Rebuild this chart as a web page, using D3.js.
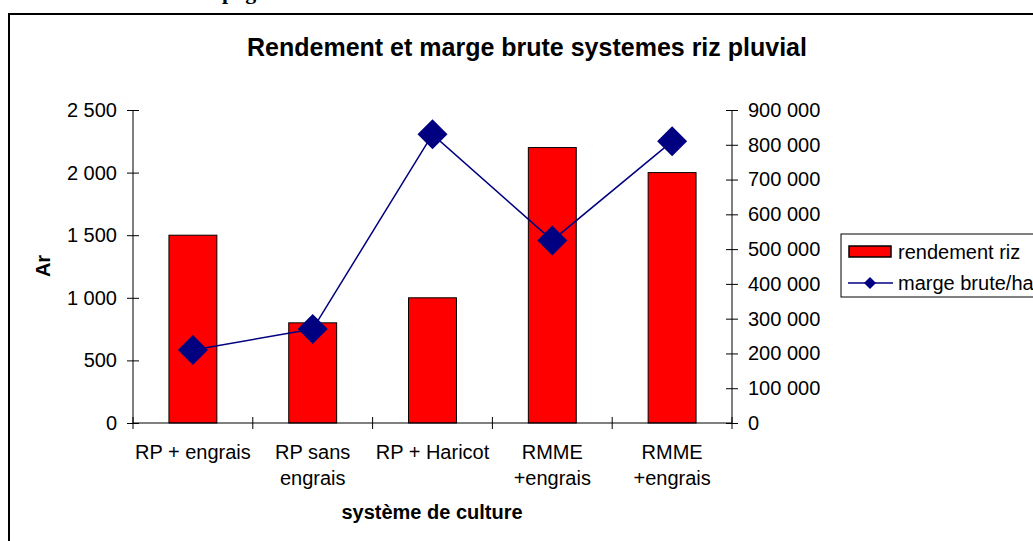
<!DOCTYPE html>
<html>
<head>
<meta charset="utf-8">
<script src="https://cdn.jsdelivr.net/npm/d3@7"></script>
<style>
  body { margin: 0; background: #fff; }
  svg { display: block; font-family: "Liberation Sans", Arial, sans-serif; }
</style>
</head>
<body>
<div id="chart"></div>
<script>
// chart data
var categories = [["RP + engrais"], ["RP sans", "engrais"], ["RP + Haricot"], ["RMME", "+engrais"], ["RMME", "+engrais"]];
var rendement = [1500, 800, 1000, 2200, 2000];
var marge = [210000, 270000, 830000, 525000, 810000];
var leftTicks = [0, 500, 1000, 1500, 2000, 2500];
var rightTicks = [0, 100000, 200000, 300000, 400000, 500000, 600000, 700000, 800000, 900000];
var legendLabels = ["rendement riz", "marge brute/ha"];

var W = 1033, H = 541;
var plotL = 133, plotR = 732, plotT = 110, plotB = 423;

var fr = d3.formatLocale({decimal: ",", thousands: " ", grouping: [3], currency: ["", ""]});
var fmt = fr.format(",d");

var svg = d3.select("#chart").append("svg").attr("width", W).attr("height", H);

// cut heading from the page above
svg.append("text").attr("x", 222).attr("y", -1)
  .style("font-family", "'Liberation Serif', serif").style("font-weight", "bold").style("font-size", "22px")
  .text("page");

// outer frame (runs off the picture)
svg.append("rect").attr("x", 9).attr("y", 14).attr("width", 1100).attr("height", 600)
  .attr("fill", "none").attr("stroke", "#000").attr("stroke-width", 2);

var idx = d3.range(categories.length);
var x = d3.scaleBand().domain(idx).range([plotL, plotR]);
var yL = d3.scaleLinear().domain([0, 2500]).range([plotB, plotT]);
var yR = d3.scaleLinear().domain([0, 900000]).range([plotB, plotT]);

// title
svg.append("text").attr("x", 527).attr("y", 56).attr("text-anchor", "middle")
  .style("font-weight", "bold").style("font-size", "25px")
  .text("Rendement et marge brute systemes riz pluvial");

// bars
var bw = x.bandwidth() / 2.5;
svg.selectAll("rect.bar").data(rendement).enter().append("rect")
  .attr("class", "bar")
  .attr("x", function(d, i) { return x(i) + x.bandwidth() / 2 - bw / 2; })
  .attr("y", function(d) { return yL(d); })
  .attr("width", bw)
  .attr("height", function(d) { return plotB - yL(d); })
  .attr("fill", "#ff0000").attr("stroke", "#000").attr("stroke-width", 1);

// left axis
var axL = svg.append("g").attr("transform", "translate(" + plotL + ",0)")
  .call(d3.axisLeft(yL).tickValues(leftTicks).tickFormat(fmt).tickSize(6).tickPadding(10));
axL.selectAll(".tick line").attr("x2", 6).attr("x1", -6);
axL.select(".domain").attr("d", "M0," + plotT + "V" + plotB);

// right axis
var axR = svg.append("g").attr("transform", "translate(" + plotR + ",0)")
  .call(d3.axisRight(yR).tickValues(rightTicks).tickFormat(fmt).tickSize(6).tickPadding(10));
axR.selectAll(".tick line").attr("x1", -6).attr("x2", 6);
axR.select(".domain").attr("d", "M0," + plotT + "V" + plotB);

svg.selectAll(".tick text").style("font-size", "20px").style("font-family", "'Liberation Sans', Arial, sans-serif").attr("fill", "#000");
svg.selectAll(".domain, .tick line").attr("stroke", "#000");

// x axis with ticks between categories
svg.append("line").attr("x1", plotL).attr("x2", plotR).attr("y1", plotB).attr("y2", plotB).attr("stroke", "#000");
svg.selectAll("line.xt").data(d3.range(categories.length + 1)).enter().append("line")
  .attr("class", "xt")
  .attr("x1", function(d) { return plotL + d * x.step(); })
  .attr("x2", function(d) { return plotL + d * x.step(); })
  .attr("y1", plotB - 6).attr("y2", plotB + 6).attr("stroke", "#000");

svg.selectAll("text.cat").data(categories).enter().append("text")
  .attr("class", "cat")
  .attr("text-anchor", "middle")
  .attr("x", function(d, i) { return x(i) + x.bandwidth() / 2; })
  .attr("y", 459)
  .style("font-size", "20px")
  .each(function(d) {
    var t = d3.select(this);
    d.forEach(function(s, k) {
      t.append("tspan").attr("x", t.attr("x")).attr("dy", k ? 26 : 0).text(s);
    });
  });

// axis titles
svg.append("text").attr("transform", "translate(50,266) rotate(-90)").attr("text-anchor", "middle")
  .style("font-weight", "bold").style("font-size", "20px").text("Ar");
svg.append("text").attr("x", 432).attr("y", 519).attr("text-anchor", "middle")
  .style("font-weight", "bold").style("font-size", "20px").text("système de culture");

// line series
var line = d3.line().x(function(d, i) { return x(i) + x.bandwidth() / 2; }).y(function(d) { return yR(d); });
svg.append("path").datum(marge).attr("d", line).attr("fill", "none").attr("stroke", "#000080").attr("stroke-width", 1.5);

var diamond = d3.symbol().type(d3.symbolSquare).size(450);
svg.selectAll("path.pt").data(marge).enter().append("path")
  .attr("class", "pt")
  .attr("d", diamond)
  .attr("transform", function(d, i) { return "translate(" + (x(i) + x.bandwidth() / 2) + "," + yR(d) + ") rotate(45)"; })
  .attr("fill", "#000080");

// legend
var lg = svg.append("g");
lg.append("rect").attr("x", 841).attr("y", 234).attr("width", 250).attr("height", 63)
  .attr("fill", "#fff").attr("stroke", "#000").attr("stroke-width", 1);
lg.append("rect").attr("x", 849).attr("y", 246).attr("width", 42).attr("height", 11)
  .attr("fill", "#ff0000").attr("stroke", "#000").attr("stroke-width", 1.5);
lg.append("line").attr("x1", 848).attr("x2", 893).attr("y1", 283).attr("y2", 283)
  .attr("stroke", "#000080").attr("stroke-width", 1.5);
lg.append("path").attr("d", d3.symbol().type(d3.symbolSquare).size(72))
  .attr("transform", "translate(870,283) rotate(45)").attr("fill", "#000080");
lg.selectAll("text").data(legendLabels).enter().append("text")
  .attr("x", 898).attr("y", function(d, i) { return 259 + i * 31; })
  .style("font-size", "20px").text(function(d) { return d; });
</script>
</body>
</html>
